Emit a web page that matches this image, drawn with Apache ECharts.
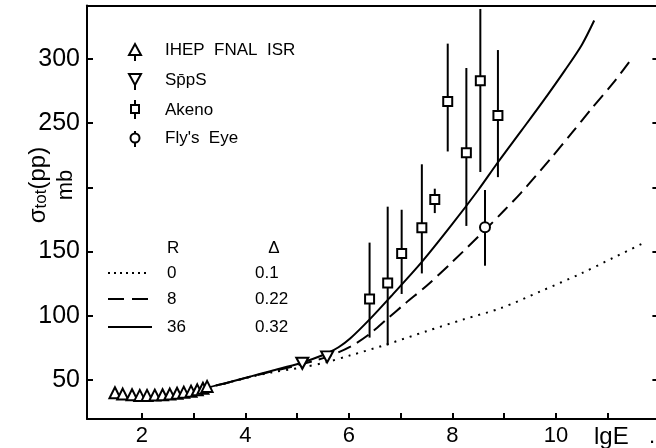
<!DOCTYPE html>
<html><head><meta charset="utf-8">
<script src="https://cdn.jsdelivr.net/npm/echarts@6/dist/echarts.min.js"></script>
<style>html,body{margin:0;padding:0;background:#fff}#c{width:656px;height:448px}</style>
</head><body><div id="c"></div>
<script>
// ---- tick values ----
const xTicks = [2, 3, 4, 5, 6, 7, 8, 9, 10, 11];
const xLabels = [2, 4, 6, 8, 10];
const yTicks = [50, 100, 150, 200, 250, 300];
const yLabels = [50, 100, 150, 250, 300];

// ---- data: [lgE, sigma] ----
const ihepFnalIsr = [[1.48,40],[1.63,39],[1.81,38.5],[1.96,38],[2.10,38],[2.25,38.2],[2.40,38.5],[2.54,39],[2.68,39.7],[2.81,40.5],[2.95,41.3],[3.07,42.3],[3.18,43.5],[3.26,45]];
const sppS = [[5.10,63],[5.58,68]];
// Akeno: [lgE, sigma, low, high]
const akeno = [[6.40,113,83,157],[6.75,125.5,77,185],[7.02,148.5,117,182.6],[7.41,168.6,133,218],[7.66,190.5,180,199],[7.91,267,228,312],[8.27,227,170,293],[8.54,283,212,339],[8.88,256,208,307]];
const flysEye = [[8.63,169,139,198]];

// ---- model curves ----
const curveR0 = [[1.45,37.5],[2.0,36.3],[2.5,37.2],[3.0,40],[3.3,44.3],[3.6,47.3],[4.09,52.3],[4.5,55.8],[5.06,59.5],[5.58,64],[6.03,69.2],[6.68,77],[7.5,88],[8.2,97],[8.94,106],[9.7,119],[10.49,133],[11.1,145],[11.71,157]];
const curveR8 = [[1.45,37.5],[2.0,36.3],[2.5,37.2],[3.0,40],[3.3,44.3],[3.6,47.3],[4.09,52.5],[4.5,56.5],[5.06,62],[5.58,68],[6.03,76],[6.39,85.5],[6.74,97.5],[7.1,110],[7.52,124],[8.0,142],[8.61,166],[9.0,182],[9.33,196],[9.91,223],[10.3,242],[10.68,261],[11.1,281],[11.48,301]];
const curveR36 = [[1.45,37.5],[2.0,36.3],[2.5,37.2],[3.0,40],[3.3,44.3],[3.6,47.3],[4.09,52.6],[4.5,57],[5.06,63],[5.3,66.3],[5.58,70.8],[5.8,75.5],[6.03,82.5],[6.42,98],[6.81,115],[7.39,141],[7.97,170],[8.5,198],[8.87,219],[9.33,244],[9.75,267],[10.17,291],[10.5,311],[10.74,330]];

const FONT = '"Liberation Sans", Arial, sans-serif';
const chart = echarts.init(document.getElementById('c'), null, {renderer: 'canvas'});

const hollow = {color: '#fff', borderColor: '#000', borderWidth: 2, opacity: 1};
const errRender = function (params, api) {
  const x = api.value(0), lo = api.value(1), hi = api.value(2);
  const p1 = api.coord([x, lo]), p2 = api.coord([x, hi]);
  return {type: 'line', shape: {x1: p1[0], y1: p1[1], x2: p2[0], y2: p2[1]}, style: {stroke: '#000', lineWidth: 2}};
};

const axLine = {show: true, lineStyle: {color: '#000', width: 2}};

const option = {
  backgroundColor: '#fff',
  animation: false,
  grid: {left: 87, top: 5.5, width: 572.4, height: 413.5, containLabel: false, outerBoundsMode: 'none'},
  xAxis: [
    {type: 'value', position: 'bottom', min: 0.94, max: 12, axisLine: axLine,
     axisTick: {show: true, inside: true, length: 6, customValues: xTicks, lineStyle: {color: '#000', width: 2}},
     axisLabel: {show: true, customValues: xLabels, color: '#000', fontSize: 22, fontFamily: FONT, margin: 6},
     splitLine: {show: false}},
    {type: 'value', position: 'top', min: 0.94, max: 12, axisLine: axLine,
     axisTick: {show: false}, axisLabel: {show: false}, splitLine: {show: false}}
  ],
  yAxis: [
    {type: 'value', position: 'left', min: 19.6, max: 341.7, axisLine: axLine,
     axisTick: {show: true, inside: true, length: 6, customValues: yTicks, lineStyle: {color: '#000', width: 2}},
     axisLabel: {show: true, customValues: yLabels, color: '#000', fontSize: 25, fontFamily: FONT, margin: 7},
     splitLine: {show: false}},
    {type: 'value', position: 'right', min: 19.6, max: 341.7, axisLine: axLine,
     axisTick: {show: true, inside: true, length: 7, customValues: yTicks, lineStyle: {color: '#000', width: 2}},
     axisLabel: {show: false}, splitLine: {show: false}}
  ],
  series: [
    {type: 'line', data: curveR0, showSymbol: false, smooth: 0.3, z: 2, silent: true,
     lineStyle: {color: '#000', width: 2, type: [2, 6]}},
    {type: 'line', data: curveR8, showSymbol: false, smooth: 0.3, z: 2, silent: true,
     lineStyle: {color: '#000', width: 2, type: [14, 7]}},
    {type: 'line', data: curveR36, showSymbol: false, smooth: 0.3, z: 2, silent: true,
     lineStyle: {color: '#000', width: 2}},
    {type: 'custom', renderItem: errRender, z: 3, silent: true,
     data: akeno.map(d => [d[0], d[2], d[3]]).concat(flysEye.map(d => [d[0], d[2], d[3]]))},
    {type: 'scatter', data: ihepFnalIsr, symbol: 'triangle', symbolSize: [11, 11], z: 5, silent: true, itemStyle: hollow},
    {type: 'scatter', data: sppS, symbol: 'triangle', symbolRotate: 180, symbolSize: [12, 11], z: 5, silent: true, itemStyle: hollow},
    {type: 'scatter', data: akeno.map(d => [d[0], d[1]]), symbol: 'rect', symbolSize: 9, z: 5, silent: true, itemStyle: hollow},
    {type: 'scatter', data: flysEye.map(d => [d[0], d[1]]), symbol: 'circle', symbolSize: 10, z: 5, silent: true, itemStyle: hollow}
  ],
  graphic: [
    // y-axis title
    {type: 'group', x: 38, y: 185, rotation: Math.PI / 2, children: [
      {type: 'text', x: 0, y: 0, style: {text: '{a|σ}{b|tot}{a|(pp)}', textAlign: 'center', textVerticalAlign: 'middle', fill: '#000',
        rich: {a: {fontSize: 24, fontFamily: FONT, fill: '#000'}, b: {fontSize: 17, fontFamily: FONT, fill: '#000', verticalAlign: 'bottom'}}}},
      {type: 'text', x: 0, y: 28, style: {text: 'mb', textAlign: 'center', textVerticalAlign: 'middle', fill: '#000', font: '22px ' + FONT}}
    ]},
    // x-axis title
    {type: 'text', x: 594, y: 437, style: {text: 'lgE', textVerticalAlign: 'middle', fill: '#000', font: '24px ' + FONT}},
    {type: 'text', x: 649, y: 437, style: {text: '.', textVerticalAlign: 'middle', fill: '#000', font: '22px ' + FONT}},
    // top legend (symbols)
    {type: 'polygon', shape: {points: [[129, 55], [141, 55], [135, 44]]}, style: {fill: '#fff', stroke: '#000', lineWidth: 2}},
    {type: 'line', shape: {x1: 135, y1: 55, x2: 135, y2: 61}, style: {stroke: '#000', lineWidth: 2}},
    {type: 'polygon', shape: {points: [[129, 74], [141, 74], [135, 85]]}, style: {fill: '#fff', stroke: '#000', lineWidth: 2}},
    {type: 'line', shape: {x1: 135, y1: 85, x2: 135, y2: 90}, style: {stroke: '#000', lineWidth: 2}},
    {type: 'line', shape: {x1: 135, y1: 100, x2: 135, y2: 119}, style: {stroke: '#000', lineWidth: 2}},
    {type: 'rect', shape: {x: 131, y: 105, width: 8, height: 8}, style: {fill: '#fff', stroke: '#000', lineWidth: 2}},
    {type: 'line', shape: {x1: 135, y1: 131, x2: 135, y2: 147}, style: {stroke: '#000', lineWidth: 2}},
    {type: 'circle', shape: {cx: 135, cy: 138, r: 4.5}, style: {fill: '#fff', stroke: '#000', lineWidth: 2}},
    // top legend (text)
    {type: 'text', x: 165, y: 50, style: {text: 'IHEP  FNAL  ISR', textVerticalAlign: 'middle', fill: '#000', font: '17px ' + FONT}},
    {type: 'text', x: 165, y: 80, style: {text: 'Sp\u0304pS', textVerticalAlign: 'middle', fill: '#000', font: '17px ' + FONT}},
    {type: 'text', x: 165, y: 110, style: {text: 'Akeno', textVerticalAlign: 'middle', fill: '#000', font: '17px ' + FONT}},
    {type: 'text', x: 165, y: 138, style: {text: "Fly's  Eye", textVerticalAlign: 'middle', fill: '#000', font: '17px ' + FONT}},
    // bottom legend
    {type: 'text', x: 167, y: 248, style: {text: 'R', textVerticalAlign: 'middle', fill: '#000', font: '17px ' + FONT}},
    {type: 'text', x: 274, y: 248, style: {text: 'Δ', textAlign: 'center', textVerticalAlign: 'middle', fill: '#000', font: '17px ' + FONT}},
    {type: 'line', shape: {x1: 108, y1: 273, x2: 150, y2: 273}, style: {stroke: '#000', lineWidth: 2, lineDash: [2, 4]}},
    {type: 'line', shape: {x1: 108, y1: 299, x2: 152, y2: 299}, style: {stroke: '#000', lineWidth: 2, lineDash: [16, 8]}},
    {type: 'line', shape: {x1: 108, y1: 327, x2: 152, y2: 327}, style: {stroke: '#000', lineWidth: 2}},
    {type: 'text', x: 167, y: 273, style: {text: '0', textVerticalAlign: 'middle', fill: '#000', font: '17px ' + FONT}},
    {type: 'text', x: 167, y: 299, style: {text: '8', textVerticalAlign: 'middle', fill: '#000', font: '17px ' + FONT}},
    {type: 'text', x: 167, y: 327, style: {text: '36', textVerticalAlign: 'middle', fill: '#000', font: '17px ' + FONT}},
    {type: 'text', x: 255, y: 273, style: {text: '0.1', textVerticalAlign: 'middle', fill: '#000', font: '17px ' + FONT}},
    {type: 'text', x: 255, y: 299, style: {text: '0.22', textVerticalAlign: 'middle', fill: '#000', font: '17px ' + FONT}},
    {type: 'text', x: 255, y: 327, style: {text: '0.32', textVerticalAlign: 'middle', fill: '#000', font: '17px ' + FONT}}
  ]
};
chart.setOption(option);
</script>
</body></html>
